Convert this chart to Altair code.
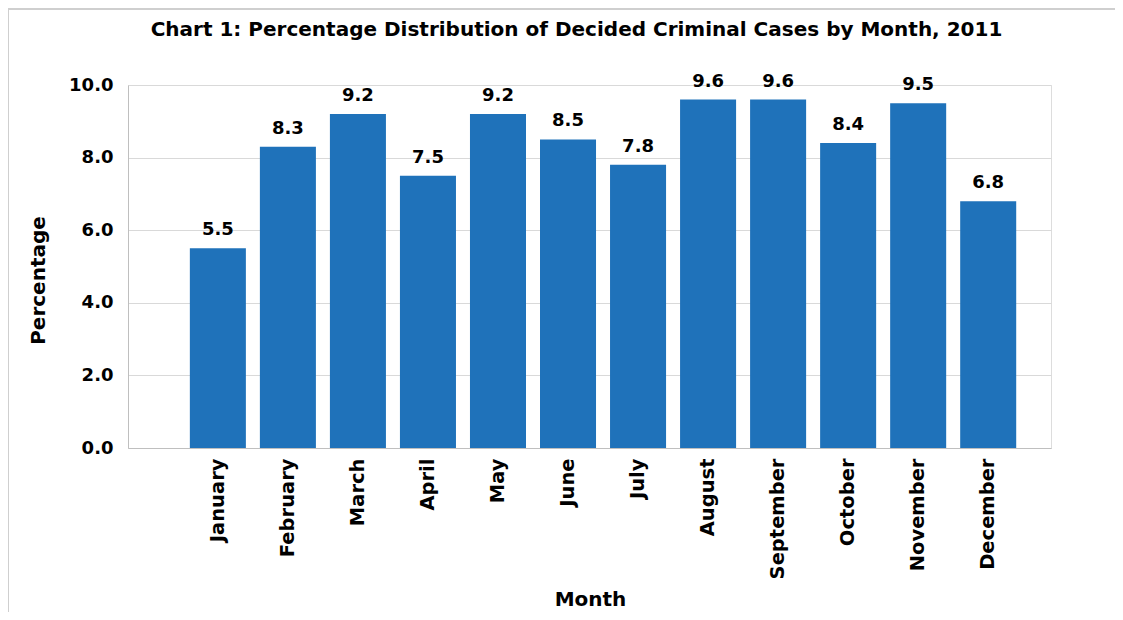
import altair as alt
import pandas as pd

months = ["January", "February", "March", "April", "May", "June",
          "July", "August", "September", "October", "November", "December"]
values = [5.5, 8.3, 9.2, 7.5, 9.2, 8.5, 7.8, 9.6, 9.6, 8.4, 9.5, 6.8]
y_ticks = [0, 2, 4, 6, 8, 10]

df = pd.DataFrame({"Month": months, "Percentage": values})

FONT = "DejaVu Sans"
BAR = "#1F72BA"

x_enc = alt.X(
    "Month:N", sort=months, title="Month",
    scale=alt.Scale(paddingInner=0.2, paddingOuter=0.69, align=0.64),
    axis=alt.Axis(labelAngle=-90, labelAlign="right", labelBaseline="middle",
                  labelPadding=10, labelFontSize=19.5, labelFontWeight="bold",
                  labelColor="#000000", labelFont=FONT, ticks=False,
                  domainColor="#BFBFBF", titleFontSize=20, titleFontWeight="bold",
                  titleFont=FONT, titleColor="#000000", titleY=151,
                  titleX=462, titleBaseline="middle"),
)
y_enc = alt.Y(
    "Percentage:Q", title="Percentage",
    scale=alt.Scale(domain=[0, 10], nice=False),
    axis=alt.Axis(values=y_ticks, format=".1f", labelFontSize=18,
                  labelFontWeight="bold", labelColor="#000000", labelFont=FONT,
                  labelPadding=15, ticks=False, domainColor="#BFBFBF",
                  gridColor="#D9D9D9", titleFontSize=20, titleFontWeight="bold",
                  titleFont=FONT, titleColor="#000000", titleX=-90, titleY=195,
                  titleBaseline="middle"),
)

bars = alt.Chart(df).mark_bar(color=BAR).encode(x=x_enc, y=y_enc)
labels = alt.Chart(df).mark_text(
    baseline="bottom", dy=-9, fontSize=18, fontWeight="bold", font=FONT, color="#000000"
).encode(x=alt.X("Month:N", sort=months), y="Percentage:Q",
         text=alt.Text("Percentage:Q", format=".1f"))

frame_src = pd.DataFrame({"k": [0]})
top_rule = alt.Chart(frame_src).mark_rule(color="#CFCFCF", strokeWidth=2).encode(
    x=alt.value(-120), x2=alt.value(1000), y=alt.value(-76))
left_rule = alt.Chart(frame_src).mark_rule(color="#CFCFCF", strokeWidth=2).encode(
    x=alt.value(-120), y=alt.value(-77), y2=alt.value(540))

chart = alt.layer(top_rule, left_rule, bars, labels).properties(
    width=923, height=363,
    title=alt.TitleParams(
        "Chart 1: Percentage Distribution of Decided Criminal Cases by Month, 2011",
        fontSize=20, fontWeight="bold", font=FONT, color="#000000",
        anchor="middle", dx=-13, offset=-33),
    autosize=alt.AutoSizeParams(type="none"),
    padding={"left": 120, "top": 77, "right": 64, "bottom": 164},
).configure_view(stroke=None).configure(background="white")

chart.save("out.html", embed_options={"renderer": "svg", "actions": False})
